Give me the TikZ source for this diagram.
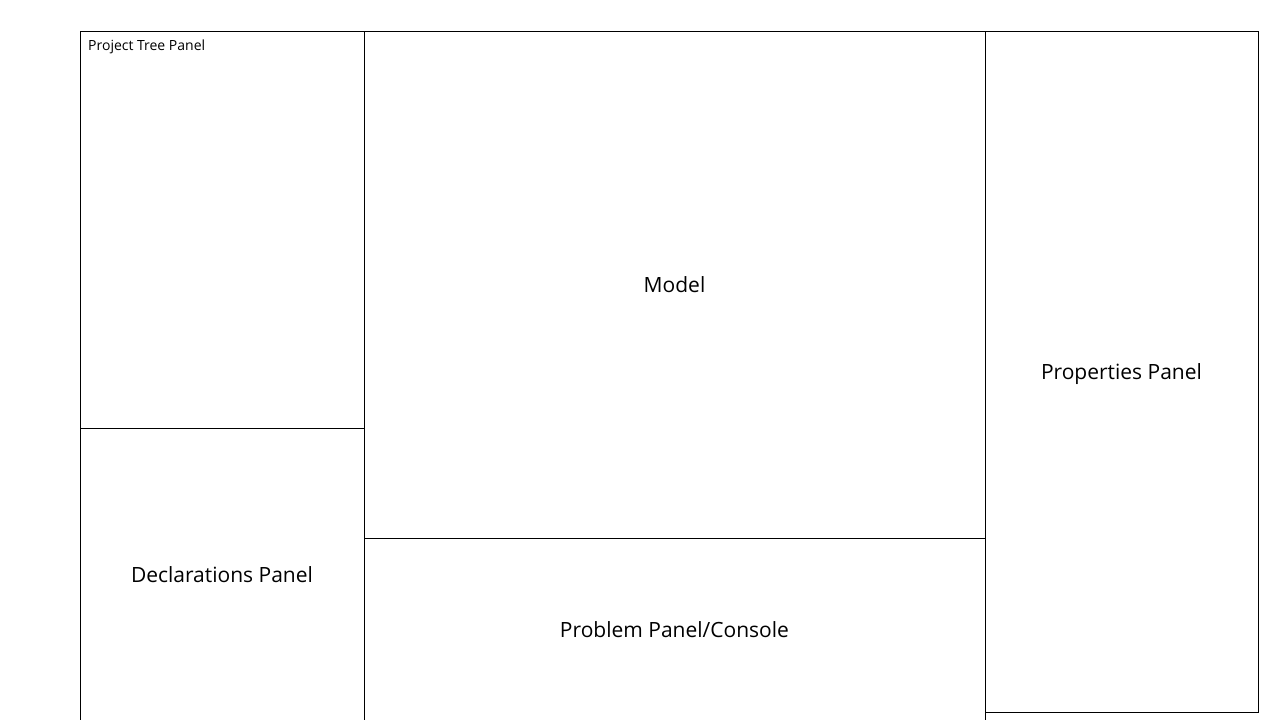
\documentclass[tikz,border=0pt]{standalone}
\usepackage{fontspec}
\setmainfont{Open Sans}
\begin{document}
\begin{tikzpicture}[x=1pt,y=-1pt,
  panel/.style={draw=black, line width=1pt, minimum width=#1, inner sep=0pt, font=\fontsize{21}{25}\selectfont},
  small/.style={inner sep=0pt, font=\fontsize{14}{17}\selectfont}]
\useasboundingbox (0,0) rectangle (1280,720);
\clip (0,0) rectangle (1280,720);
\node[panel=284pt, minimum height=397pt] (tree) at (222,229.5) {};
\node[small, anchor=west] (treelabel) at (88,46.5) {Project Tree Panel};
\node[panel=284pt, minimum height=294pt] (decl) at (222,575) {Declarations Panel};
\node[panel=621pt, minimum height=507pt] (model) at (674.5,284.5) {Model};
\node[panel=621pt, minimum height=184pt] (problem) at (674.5,630) {Problem Panel/Console};
\node[panel=273pt, minimum height=681pt] (props) at (1121.5,371.5) {\raisebox{-3pt}[\height][\depth]{Properties Panel}};
\end{tikzpicture}
\end{document}
